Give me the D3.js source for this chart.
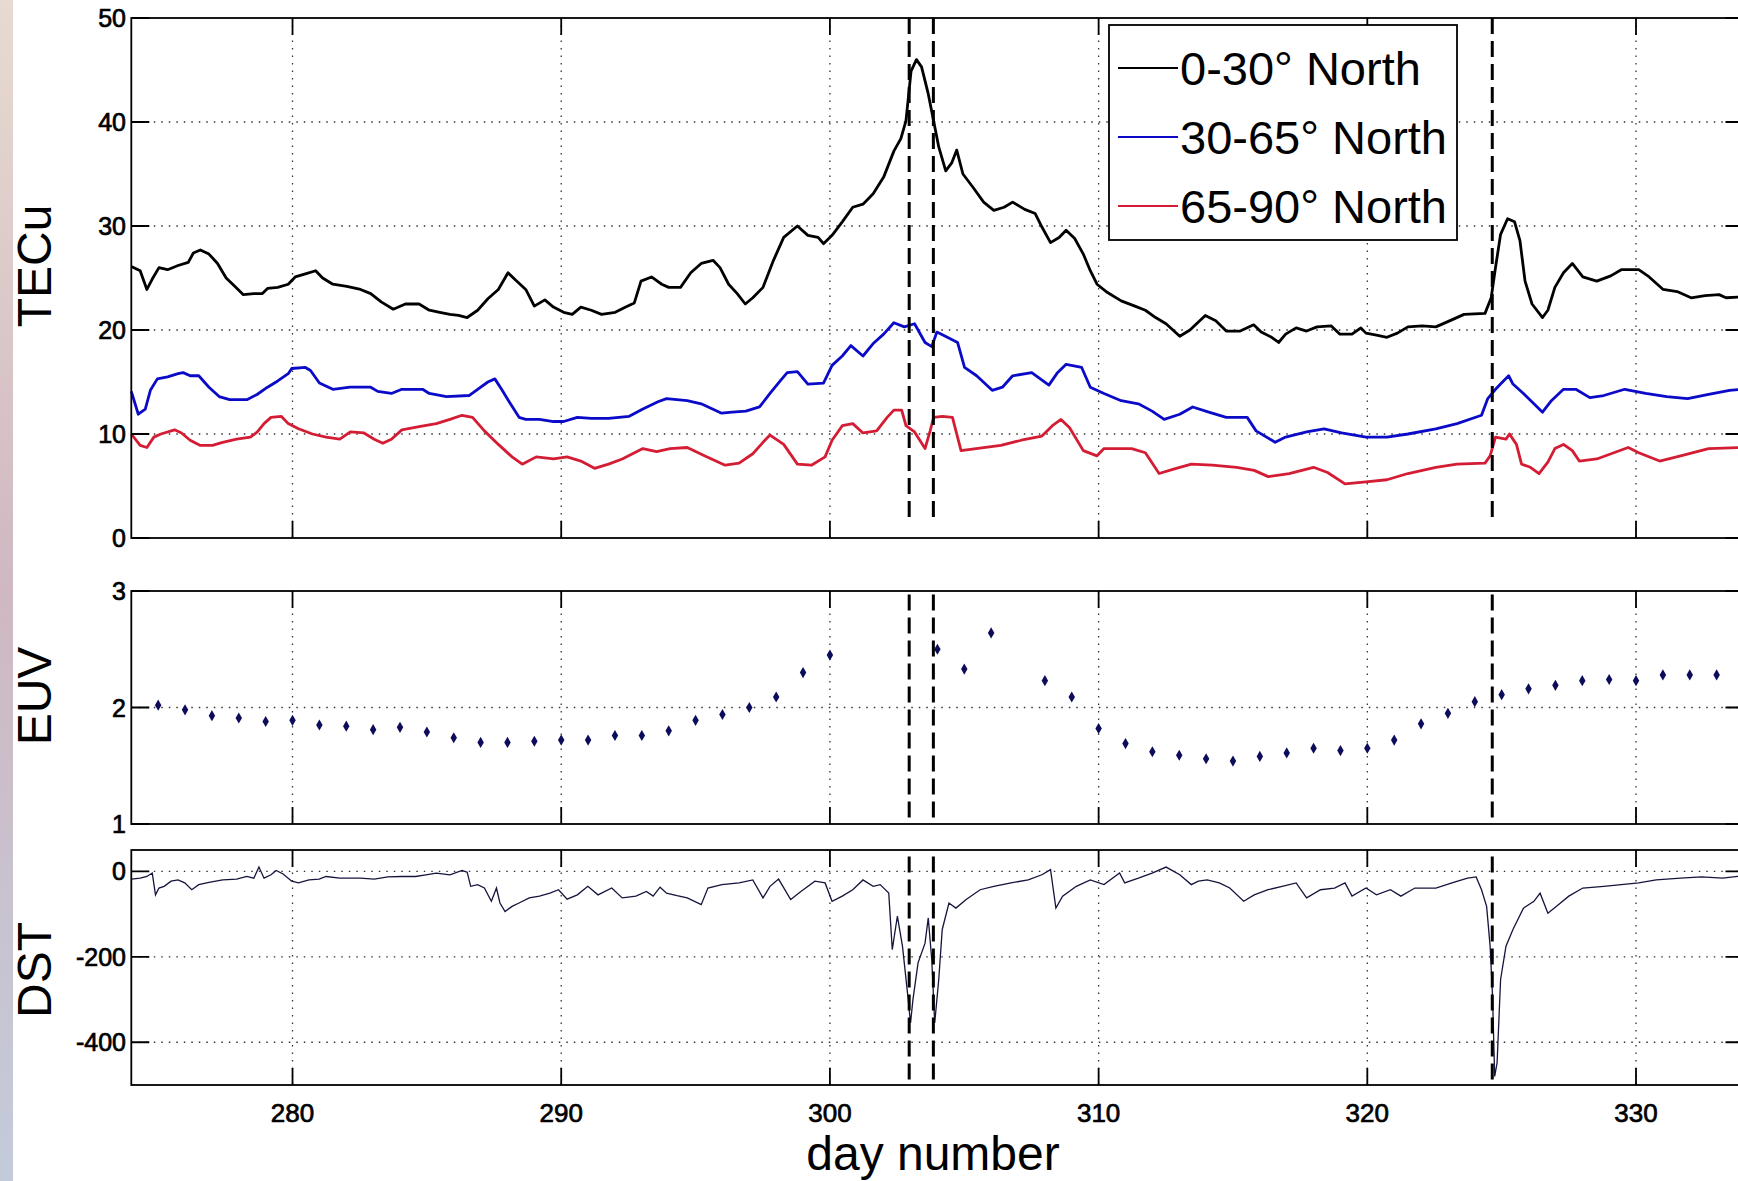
<!DOCTYPE html>
<html>
<head>
<meta charset="utf-8">
<script src="https://cdn.jsdelivr.net/npm/d3@7"></script>
<style>
  body { margin: 0; background: #fff; }
  text { font-family: "Liberation Sans", Arial, Helvetica, sans-serif; }
</style>
</head>
<body>
<script>
// TEC, 0-30 deg North  [day, TECu]
const tec0to30 = [[274.0,26.1],[274.33,25.7],[274.58,23.9],[274.78,24.9],[275.03,26.0],[275.35,25.8],[275.74,26.2],[276.12,26.5],[276.31,27.4],[276.57,27.7],[276.89,27.3],[277.21,26.4],[277.53,25.0],[277.85,24.2],[278.17,23.4],[278.56,23.5],[278.88,23.5],[279.07,24.0],[279.45,24.1],[279.84,24.4],[280.1,25.1],[280.48,25.4],[280.86,25.7],[281.12,25.0],[281.5,24.4],[282.02,24.2],[282.53,23.9],[282.91,23.5],[283.3,22.7],[283.75,22.0],[284.2,22.5],[284.71,22.5],[285.09,21.9],[285.48,21.7],[285.86,21.5],[286.18,21.4],[286.5,21.2],[286.89,21.9],[287.27,23.0],[287.66,23.9],[288.02,25.5],[288.3,24.8],[288.68,23.9],[289.0,22.3],[289.39,22.9],[289.71,22.2],[290.09,21.7],[290.41,21.5],[290.73,22.2],[291.12,21.9],[291.5,21.5],[292.01,21.7],[292.4,22.2],[292.72,22.6],[292.97,24.7],[293.36,25.1],[293.74,24.4],[294.0,24.1],[294.44,24.1],[294.82,25.5],[295.21,26.4],[295.65,26.7],[295.91,26.0],[296.23,24.4],[296.55,23.5],[296.85,22.5],[297.13,23.1],[297.51,24.1],[297.9,26.7],[298.28,28.9],[298.79,30.0],[299.18,29.1],[299.56,28.9],[299.76,28.3],[300.08,29.1],[300.46,30.4],[300.85,31.8],[301.23,32.1],[301.61,33.1],[302.0,34.7],[302.38,37.2],[302.64,38.4],[302.83,40.1],[303.02,44.9],[303.22,46.0],[303.41,45.3],[303.66,42.7],[303.86,40.1],[304.05,37.6],[304.31,35.3],[304.54,36.1],[304.72,37.3],[304.95,35.0],[305.33,33.7],[305.72,32.3],[306.1,31.5],[306.48,31.8],[306.8,32.3],[307.25,31.6],[307.64,31.2],[307.89,29.9],[308.21,28.4],[308.53,28.9],[308.79,29.6],[309.11,28.8],[309.43,27.3],[309.69,25.7],[309.94,24.4],[310.33,23.6],[310.84,22.8],[311.35,22.3],[311.74,21.9],[312.12,21.2],[312.51,20.6],[313.02,19.4],[313.4,20.0],[313.97,21.4],[314.36,20.9],[314.75,19.9],[315.27,19.9],[315.77,20.5],[316.05,19.8],[316.44,19.3],[316.7,18.8],[316.96,19.6],[317.35,20.2],[317.74,19.9],[318.13,20.3],[318.65,20.4],[318.98,19.6],[319.43,19.6],[319.76,20.2],[319.95,19.7],[320.34,19.5],[320.73,19.3],[321.12,19.7],[321.51,20.3],[322.04,20.4],[322.55,20.3],[323.08,20.9],[323.6,21.5],[324.38,21.6],[324.61,23.1],[324.77,26.0],[324.96,29.2],[325.22,30.7],[325.48,30.4],[325.68,28.6],[325.87,24.7],[326.13,22.5],[326.52,21.2],[326.72,21.9],[326.98,24.1],[327.3,25.5],[327.63,26.4],[328.02,25.1],[328.54,24.7],[329.06,25.2],[329.45,25.8],[330.1,25.8],[330.49,25.1],[331.01,23.9],[331.53,23.7],[332.05,23.1],[332.57,23.3],[333.09,23.4],[333.35,23.1],[334.0,23.2]];

// TEC, 30-65 deg North
const tec30to65 = [[274.0,14.1],[274.26,11.9],[274.52,12.4],[274.71,14.2],[274.97,15.3],[275.35,15.5],[275.74,15.8],[275.93,15.9],[276.19,15.6],[276.51,15.6],[276.89,14.5],[277.27,13.6],[277.66,13.3],[278.3,13.3],[278.68,13.8],[279.07,14.5],[279.45,15.1],[279.84,15.8],[279.97,16.3],[280.48,16.4],[280.67,16.1],[281.0,14.9],[281.5,14.3],[282.14,14.5],[282.91,14.5],[283.17,14.1],[283.68,13.9],[284.07,14.3],[284.84,14.3],[285.09,13.9],[285.73,13.6],[286.57,13.7],[286.89,14.3],[287.27,15.0],[287.53,15.3],[287.78,14.3],[288.04,13.2],[288.43,11.6],[288.68,11.4],[289.19,11.4],[289.71,11.2],[290.09,11.2],[290.6,11.6],[291.12,11.5],[291.76,11.5],[292.53,11.7],[293.04,12.4],[293.6,13.1],[293.92,13.4],[294.69,13.2],[295.21,12.9],[295.97,12.0],[296.36,12.1],[296.87,12.2],[297.38,12.6],[297.77,13.9],[298.15,15.1],[298.41,15.9],[298.79,16.0],[299.18,14.8],[299.76,14.9],[300.08,16.6],[300.46,17.5],[300.78,18.5],[301.23,17.5],[301.61,18.7],[302.0,19.6],[302.38,20.7],[302.77,20.3],[303.15,20.6],[303.54,18.8],[303.79,18.4],[303.98,19.8],[304.37,19.3],[304.75,18.8],[305.01,16.4],[305.46,15.6],[306.04,14.2],[306.42,14.5],[306.8,15.6],[307.51,15.9],[308.15,14.7],[308.47,15.9],[308.79,16.7],[309.37,16.4],[309.69,14.5],[310.2,13.9],[310.84,13.2],[311.48,12.9],[311.99,12.2],[312.44,11.4],[313.02,11.9],[313.5,12.6],[314.1,12.1],[314.75,11.6],[315.53,11.6],[315.86,10.3],[316.57,9.2],[316.96,9.7],[317.74,10.2],[318.39,10.5],[319.04,10.1],[319.95,9.7],[320.73,9.7],[321.51,10.0],[322.55,10.5],[323.34,11.0],[324.25,11.8],[324.48,13.4],[324.77,14.3],[325.03,15.0],[325.26,15.6],[325.42,14.8],[325.81,13.9],[326.2,12.9],[326.52,12.1],[326.85,13.2],[327.3,14.3],[327.76,14.3],[328.28,13.5],[328.8,13.7],[329.58,14.3],[330.36,13.9],[331.14,13.6],[331.92,13.4],[332.7,13.8],[333.48,14.2],[334.0,14.3]];

// TEC, 65-90 deg North
const tec65to90 = [[274.0,10.0],[274.33,8.9],[274.58,8.7],[274.84,9.7],[275.1,10.0],[275.61,10.4],[275.87,10.1],[276.19,9.4],[276.57,8.9],[277.02,8.9],[277.4,9.2],[277.92,9.5],[278.43,9.7],[278.69,10.2],[278.94,11.0],[279.2,11.6],[279.58,11.7],[279.84,11.0],[280.22,10.5],[280.74,10.0],[281.25,9.7],[281.76,9.5],[282.15,10.2],[282.66,10.1],[283.04,9.5],[283.36,9.1],[283.68,9.5],[284.07,10.4],[284.71,10.7],[285.35,11.0],[285.86,11.4],[286.31,11.8],[286.7,11.6],[287.14,10.3],[287.66,9.0],[288.17,7.8],[288.55,7.1],[289.07,7.8],[289.71,7.6],[290.22,7.8],[290.73,7.4],[291.24,6.7],[291.76,7.1],[292.27,7.6],[293.04,8.6],[293.55,8.3],[294.05,8.6],[294.69,8.7],[295.33,7.9],[296.1,7.0],[296.62,7.2],[297.13,8.1],[297.51,9.2],[297.77,9.9],[298.28,9.0],[298.79,7.1],[299.31,7.0],[299.82,7.8],[300.08,9.4],[300.46,10.8],[300.85,11.0],[301.23,10.1],[301.74,10.3],[302.13,11.6],[302.38,12.3],[302.67,12.3],[302.83,10.8],[303.15,10.2],[303.54,8.6],[303.73,10.3],[303.86,11.6],[304.18,11.7],[304.56,11.6],[304.88,8.4],[305.72,8.7],[306.36,8.9],[307.12,9.4],[307.89,9.8],[308.28,10.8],[308.6,11.4],[308.92,10.6],[309.43,8.4],[309.94,7.9],[310.2,8.6],[310.71,8.6],[311.23,8.6],[311.74,8.2],[312.25,6.2],[312.76,6.6],[313.45,7.1],[314.23,7.0],[315.14,6.8],[315.79,6.5],[316.31,5.9],[317.09,6.2],[318.0,6.8],[318.52,6.3],[319.17,5.2],[319.95,5.4],[320.73,5.6],[321.51,6.2],[322.55,6.8],[323.34,7.1],[324.38,7.2],[324.57,7.9],[324.77,9.7],[325.16,9.5],[325.29,10.0],[325.55,9.0],[325.74,7.1],[326.07,6.8],[326.39,6.2],[326.72,7.3],[326.98,8.6],[327.3,9.0],[327.63,8.4],[327.89,7.4],[328.54,7.6],[329.71,8.7],[330.1,8.2],[330.88,7.4],[331.66,7.9],[332.7,8.6],[334.0,8.7]];

// daily EUV
const euvDays = [275,276,277,278,279,280,281,282,283,284,285,286,287,288,289,290,291,292,293,294,295,296,297,298,299,300,304,305,306,308,309,310,311,312,313,314,315,316,317,318,319,320,321,322,323,324,325,326,327,328,329,330,331,332,333,334];
const euvValues = [2.02,1.98,1.93,1.91,1.88,1.89,1.85,1.84,1.81,1.83,1.79,1.74,1.70,1.70,1.71,1.72,1.72,1.76,1.76,1.80,1.89,1.94,2.00,2.09,2.30,2.45,2.50,2.33,2.64,2.23,2.09,1.82,1.69,1.62,1.59,1.56,1.54,1.58,1.61,1.65,1.63,1.65,1.72,1.86,1.95,2.05,2.11,2.16,2.19,2.23,2.24,2.23,2.28,2.28,2.28,2.26];

// Dst index
const dst = [[274.0,-18],[274.33,-16],[274.58,-12],[274.78,-4],[274.9,-55],[275.03,-39],[275.22,-35],[275.48,-23],[275.74,-20],[275.99,-27],[276.25,-43],[276.51,-31],[276.89,-26],[277.4,-20],[277.92,-18],[278.3,-12],[278.56,-16],[278.75,10],[278.94,-16],[279.2,-8],[279.39,2],[279.65,-6],[279.97,-23],[280.22,-27],[280.61,-20],[280.99,-18],[281.25,-12],[281.76,-16],[282.53,-16],[283.04,-18],[283.55,-13],[284.07,-12],[284.58,-12],[284.96,-8],[285.35,-4],[285.86,-8],[286.31,2],[286.5,-2],[286.63,-35],[286.89,-31],[287.14,-39],[287.4,-70],[287.59,-39],[287.72,-74],[287.91,-94],[288.17,-82],[288.43,-74],[288.81,-62],[289.19,-58],[289.58,-51],[289.9,-43],[290.22,-65],[290.6,-55],[290.99,-35],[291.37,-55],[291.88,-39],[292.27,-62],[292.78,-58],[293.17,-47],[293.42,-58],[293.68,-37],[293.92,-51],[294.31,-57],[294.69,-62],[295.21,-78],[295.46,-39],[295.98,-31],[296.62,-27],[297.13,-20],[297.51,-62],[297.77,-35],[298.09,-18],[298.54,-66],[298.92,-47],[299.44,-23],[299.82,-27],[300.08,-70],[300.46,-58],[300.85,-43],[301.23,-20],[301.61,-35],[301.87,-31],[302.19,-51],[302.32,-183],[302.51,-105],[302.7,-175],[302.9,-292],[303.0,-355],[303.09,-300],[303.28,-214],[303.54,-168],[303.66,-109],[303.79,-207],[303.9,-355],[304.05,-253],[304.18,-136],[304.43,-74],[304.69,-86],[305.07,-66],[305.59,-43],[306.1,-35],[306.74,-27],[307.38,-20],[307.89,-8],[308.21,4],[308.41,-86],[308.66,-58],[309.17,-35],[309.69,-20],[310.2,-31],[310.78,-4],[310.97,-27],[311.48,-16],[311.99,-4],[312.51,10],[313.02,-8],[313.45,-31],[313.71,-23],[314.04,-20],[314.49,-27],[314.88,-39],[315.4,-70],[315.79,-55],[316.31,-43],[316.83,-35],[317.35,-27],[317.74,-62],[318.26,-43],[318.78,-39],[319.17,-27],[319.43,-58],[319.95,-39],[320.34,-55],[320.86,-43],[321.25,-58],[321.77,-39],[322.55,-39],[323.21,-26],[323.73,-16],[324.05,-13],[324.25,-43],[324.44,-82],[324.57,-175],[324.66,-292],[324.74,-480],[324.83,-448],[324.96,-253],[325.16,-175],[325.42,-136],[325.81,-86],[326.2,-70],[326.43,-51],[326.72,-98],[327.11,-78],[327.5,-58],[328.02,-39],[328.8,-35],[329.45,-31],[330.1,-27],[330.75,-20],[331.66,-16],[332.44,-13],[333.22,-16],[334.0,-10]];

// storm markers (day numbers)
const stormDays = [302.95, 303.85, 324.65];

const legendLabels = ['0-30° North', '30-65° North', '65-90° North'];
const xTicks = [280, 290, 300, 310, 320, 330];

const W = 1738, H = 1181;
const svg = d3.select('body').append('svg').attr('width', W).attr('height', H);

// tinted strip on the left edge
const grad = svg.append('defs').append('linearGradient')
  .attr('id', 'strip').attr('x1', 0).attr('y1', 0).attr('x2', 0).attr('y2', 1);
grad.append('stop').attr('offset', '0%').attr('stop-color', '#e8dad0');
grad.append('stop').attr('offset', '50%').attr('stop-color', '#cfb8c2');
grad.append('stop').attr('offset', '100%').attr('stop-color', '#c3cbdb');
svg.append('rect').attr('x', 0).attr('y', 0).attr('width', 13).attr('height', H).attr('fill', 'url(#strip)');

const x = d3.scaleLinear().domain([274, 334]).range([131.3, 1743.5]);

const panels = [
  { label: 'TECu', y: d3.scaleLinear().domain([0, 50]).range([538, 18]), ticks: [0, 10, 20, 30, 40, 50], labelY: 266, dash: [1.7, 50] },
  { label: 'EUV', y: d3.scaleLinear().domain([1, 3]).range([824, 591]), ticks: [1, 2, 3], labelY: 696, dash: [1.04, 2.97] },
  { label: 'DST', y: d3.scaleLinear().domain([-500, 50]).range([1085, 850]), ticks: [-400, -200, 0], labelY: 970, dash: [-488, 35] }
];

const x0 = x.range()[0], x1 = x.range()[1];

panels.forEach(function (p, i) {
  const g = svg.append('g');
  const top = p.y.range()[1], bot = p.y.range()[0];

  // dotted grid
  g.selectAll('.vg').data(xTicks).enter().append('line')
    .attr('x1', d => x(d)).attr('x2', d => x(d))
    .attr('y1', top).attr('y2', bot)
    .attr('stroke', '#333').attr('stroke-width', 1.3).attr('stroke-dasharray', '1.5,6');
  g.selectAll('.hg').data(p.ticks.filter(t => p.y(t) > top + 1 && p.y(t) < bot - 1)).enter().append('line')
    .attr('x1', x0).attr('x2', x1)
    .attr('y1', d => p.y(d)).attr('y2', d => p.y(d))
    .attr('stroke', '#333').attr('stroke-width', 1.3).attr('stroke-dasharray', '1.5,6');

  // data
  if (i === 0) {
    const line = d3.line().x(d => x(d[0])).y(d => p.y(d[1]));
    [[tec0to30, '#000000'], [tec30to65, '#0a0ac8'], [tec65to90, '#d41c34']].forEach(function (s) {
      g.append('path').datum(s[0]).attr('d', line)
        .attr('fill', 'none').attr('stroke', s[1]).attr('stroke-width', 2.8)
        .attr('stroke-linejoin', 'round');
    });
  } else if (i === 1) {
    g.selectAll('.euv').data(euvDays).enter().append('path')
      .attr('d', d3.symbol().type(d3.symbolDiamond).size(36))
      .attr('transform', (d, k) => `translate(${x(d)},${p.y(euvValues[k])})`)
      .attr('fill', '#0c0c5a');
  } else {
    const line = d3.line().x(d => x(d[0])).y(d => p.y(d[1]));
    g.append('path').datum(dst).attr('d', line)
      .attr('fill', 'none').attr('stroke', '#14143c').attr('stroke-width', 1.3);
  }

  // storm onset markers
  g.selectAll('.storm').data(stormDays).enter().append('line')
    .attr('x1', d => x(d)).attr('x2', d => x(d))
    .attr('y1', p.y(p.dash[1])).attr('y2', p.y(p.dash[0]))
    .attr('stroke', '#000').attr('stroke-width', 3).attr('stroke-dasharray', '16,7');

  // frame and inward ticks
  g.append('rect').attr('x', x0).attr('y', top).attr('width', x1 - x0).attr('height', bot - top)
    .attr('fill', 'none').attr('stroke', '#000').attr('stroke-width', 1.8);
  g.selectAll('.xt').data(xTicks).enter().append('path')
    .attr('d', d => `M${x(d)},${top}v17M${x(d)},${bot}v-17`)
    .attr('stroke', '#000').attr('stroke-width', 1.8);
  g.selectAll('.yt').data(p.ticks).enter().append('path')
    .attr('d', d => `M${x0},${p.y(d)}h18M${x1},${p.y(d)}h-18`)
    .attr('stroke', '#000').attr('stroke-width', 1.8);
  g.selectAll('.yl').data(p.ticks).enter().append('text')
    .attr('x', 126).attr('y', d => p.y(d)).attr('dy', '0.36em')
    .attr('text-anchor', 'end').attr('font-size', 25).attr('fill', '#000')
    .attr('stroke', '#000').attr('stroke-width', 0.7)
    .text(d => d);

  g.append('text')
    .attr('transform', `translate(51,${p.labelY}) rotate(-90)`)
    .attr('text-anchor', 'middle').attr('font-size', 48).attr('fill', '#000')
    .text(p.label);
});

// x tick labels under the bottom panel
svg.selectAll('.xl').data(xTicks).enter().append('text')
  .attr('x', d => x(d)).attr('y', 1122)
  .attr('text-anchor', 'middle').attr('font-size', 26).attr('fill', '#000')
  .attr('stroke', '#000').attr('stroke-width', 0.7)
  .text(d => d);

svg.append('text').attr('x', 933).attr('y', 1170)
  .attr('text-anchor', 'middle').attr('font-size', 48).attr('fill', '#000')
  .text('day number');

// legend
const lg = svg.append('g');
lg.append('rect').attr('x', 1109).attr('y', 25).attr('width', 348).attr('height', 215)
  .attr('fill', '#fff').attr('stroke', '#000').attr('stroke-width', 1.8);
const legendColors = ['#000000', '#0a0ac8', '#d41c34'];
legendLabels.forEach(function (t, k) {
  const base = 85 + k * 69;
  lg.append('line').attr('x1', 1118).attr('x2', 1178)
    .attr('y1', base - 17).attr('y2', base - 17)
    .attr('stroke', legendColors[k]).attr('stroke-width', 2.2);
  lg.append('text').attr('x', 1180).attr('y', base)
    .attr('font-size', 47).attr('fill', '#000').text(t);
});
</script>
</body>
</html>
